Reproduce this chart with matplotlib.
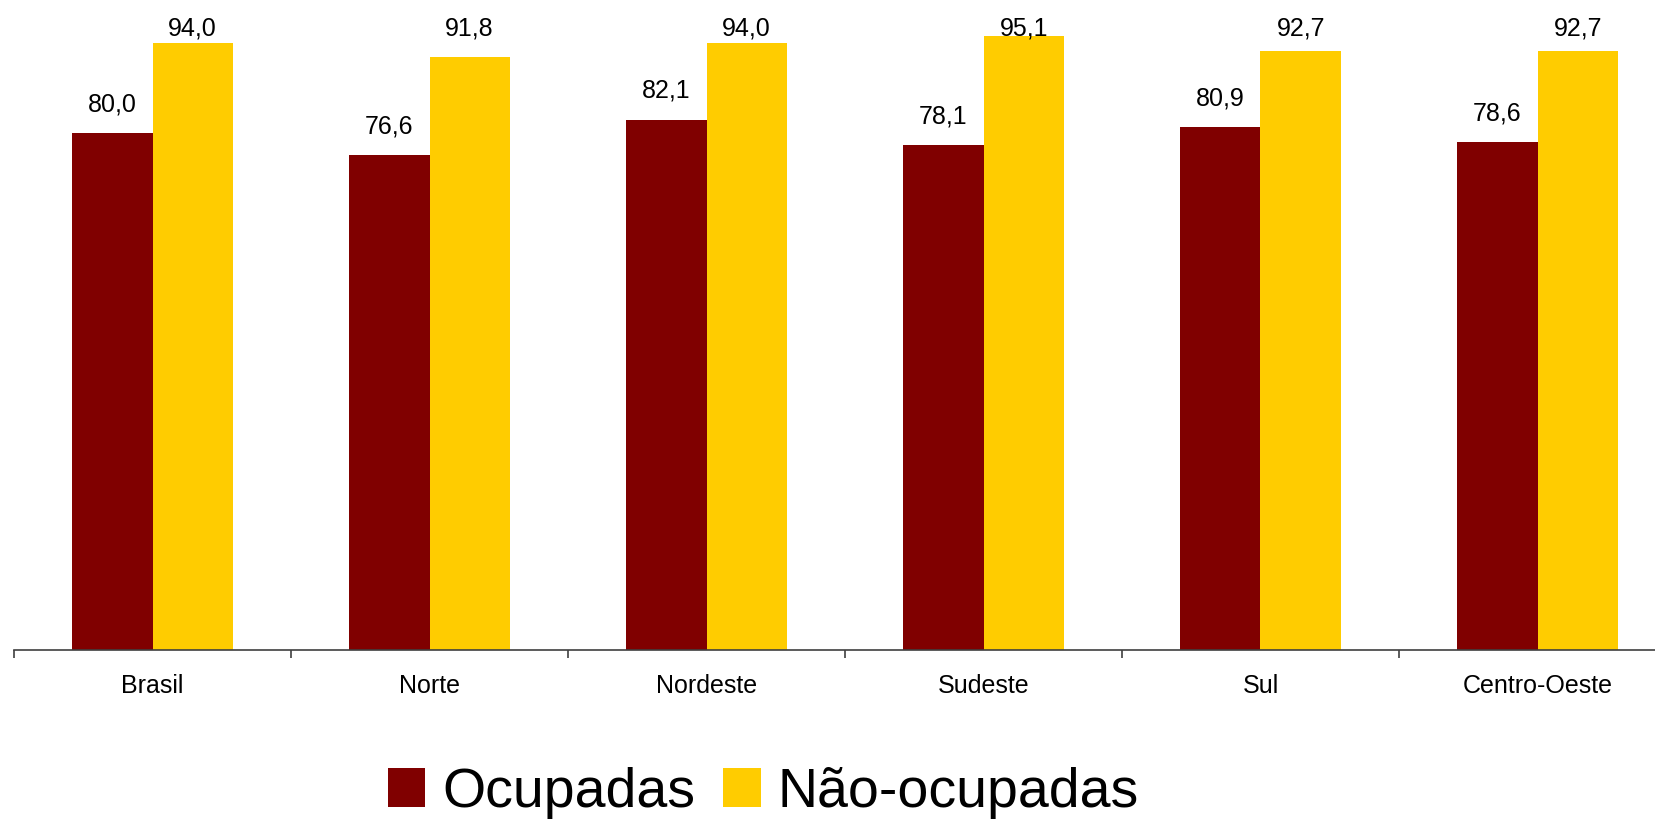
import matplotlib
matplotlib.use("Agg")
import matplotlib.pyplot as plt
import numpy as np

regioes = ["Brasil", "Norte", "Nordeste", "Sudeste", "Sul", "Centro-Oeste"]
ocupadas = [80.0, 76.6, 82.1, 78.1, 80.9, 78.6]
nao_ocupadas = [94.0, 91.8, 94.0, 95.1, 92.7, 92.7]

cor_ocupadas = "#800000"
cor_nao_ocupadas = "#FFCC00"

plt.rcParams["font.family"] = ["Liberation Sans", "DejaVu Sans"]

W, H = 1655, 821
fig = plt.figure(figsize=(W / 100, H / 100), dpi=100)
# plot area: starts at x=14 px, each category 277 px wide, baseline at y=650 px
ax = fig.add_axes([14 / W, (H - 650) / H, 6 * 277 / W, 646 / H])

x = np.arange(len(regioes))
largura = 0.29
b1 = ax.bar(x - largura / 2, ocupadas, largura, color=cor_ocupadas, label="Ocupadas")
b2 = ax.bar(x + largura / 2, nao_ocupadas, largura, color=cor_nao_ocupadas, label="Não-ocupadas")

ax.set_xlim(-0.5, len(regioes) - 0.5)
ax.set_ylim(0, 100)

def fmt(v):
    return f"{v:.1f}".replace(".", ",")

# labels sit a fixed gap above each bar, but never above the top of the plot area
gap = 3.4
teto = 95.2
for barras, valores in ((b1, ocupadas), (b2, nao_ocupadas)):
    for b, v in zip(barras, valores):
        ax.text(b.get_x() + b.get_width() / 2, min(v + gap, teto), fmt(v),
                ha="center", va="baseline", fontsize=18, color="black")

for s in ("left", "right", "top"):
    ax.spines[s].set_visible(False)
ax.spines["bottom"].set_color("#404040")
ax.spines["bottom"].set_linewidth(1.2)
ax.set_yticks([])

# boundaries between categories as major ticks, names as minor ticks
ax.set_xticks(np.arange(len(regioes) + 1) - 0.5)
ax.set_xticklabels([])
ax.set_xticks(x, minor=True)
ax.set_xticklabels(regioes, minor=True, fontsize=18)
ax.tick_params(axis="x", which="major", direction="out", length=6, width=1.2, color="#404040")
ax.tick_params(axis="x", which="minor", length=0, pad=17)

fig.legend(handles=[b1, b2], labels=["Ocupadas", "Não-ocupadas"],
           loc="center", bbox_to_anchor=(763 / W, 1 - 793 / H),
           ncol=2, frameon=False, fontsize=40,
           handlelength=0.68, handleheight=0.7, handletextpad=0.3,
           columnspacing=0.5, borderpad=0, borderaxespad=0)

fig.savefig("out.png", dpi=100)
